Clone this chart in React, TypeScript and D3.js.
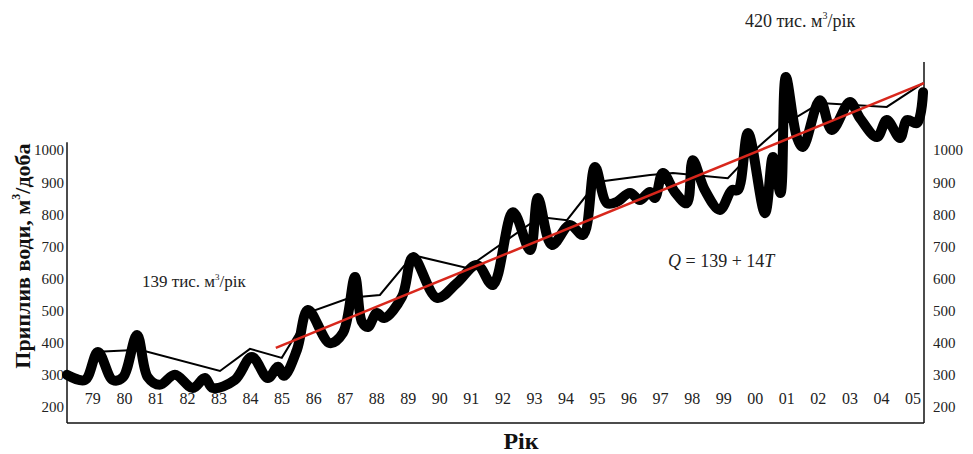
import React from 'react';
import * as d3 from 'd3';

// thick curve: seasonal inflow (year, m3/day)
const seasonal: [number, number][] = [
  [1978.18, 300], [1978.75, 284], [1979.16, 371], [1979.63, 284], [1979.95, 292],
  [1980.4, 424], [1980.74, 293], [1981.12, 269], [1981.6, 300], [1982.17, 259],
  [1982.55, 290], [1982.8, 259], [1983.5, 284], [1984.04, 356], [1984.55, 290],
  [1984.87, 325], [1985.06, 297], [1985.47, 378], [1985.82, 502], [1986.51, 399],
  [1986.93, 431], [1987.31, 605], [1987.53, 465], [1987.72, 449], [1988.0, 493],
  [1988.23, 477], [1988.8, 543], [1989.15, 667], [1989.91, 540], [1990.54, 586],
  [1991.18, 642], [1991.68, 580], [1992.32, 807], [1992.86, 689], [1993.11, 851],
  [1993.55, 705], [1994.12, 767], [1994.54, 736], [1994.92, 948], [1995.3, 835],
  [1995.61, 839], [1996.03, 867], [1996.34, 845], [1996.66, 870], [1996.82, 851],
  [1997.07, 929], [1997.45, 870], [1997.83, 835], [1998.02, 969], [1998.4, 876],
  [1998.88, 814], [1999.26, 876], [1999.45, 876], [1999.77, 1054], [2000.31, 804],
  [2000.56, 979], [2000.8, 867], [2000.97, 1228], [2001.32, 1041], [2001.51, 1010],
  [2002.05, 1156], [2002.43, 1063], [2003.0, 1150], [2003.32, 1100], [2003.86, 1041],
  [2004.17, 1094], [2004.59, 1038], [2004.81, 1094], [2005.13, 1085], [2005.32, 1181],
];

// thin line: annual means
const annual: [number, number][] = [
  [1979.0, 371], [1980.49, 378], [1983.03, 312], [1983.98, 381], [1984.99, 353],
  [1985.88, 496], [1987.15, 540], [1988.1, 549], [1989.15, 673], [1990.86, 633],
  [1993.17, 792], [1994.03, 782], [1994.98, 901], [1996.66, 923], [1997.39, 929],
  [1999.13, 913], [1999.99, 1001], [2000.88, 1078], [2002.05, 1147], [2004.17, 1135],
  [2005.32, 1209],
];

// red trend line Q = 139 + 14T
const trend: [number, number][] = [[1984.8, 384], [2005.35, 1209]];

const yearTicks = d3.range(1979, 2006);
const valueTicks = [200, 300, 400, 500, 600, 700, 800, 900, 1000];

const serif = { fontFamily: "'Liberation Serif', 'Times New Roman', Times, serif" };

export default function App() {
  const x = d3.scaleLinear().domain([1978.18, 2005.35]).range([67, 924]);
  const y = d3.scaleLinear().domain([150, 1275]).range([423, 62]);

  const smooth = d3.line<[number, number]>()
    .x(d => x(d[0])).y(d => y(d[1]))
    .curve(d3.curveCatmullRom.alpha(0.5));
  const straight = d3.line<[number, number]>()
    .x(d => x(d[0])).y(d => y(d[1]));

  const [x0, x1] = x.range();
  const yBottom = y(150);

  return (
    <svg width={973} height={454} style={{ position: 'absolute', left: 0, top: 0, background: '#fff' }}>
      {/* frame */}
      <line x1={x0} x2={x0} y1={y(1025)} y2={yBottom} stroke="#111" strokeWidth={1.5} />
      <line x1={x0} x2={x1} y1={yBottom} y2={yBottom} stroke="#111" strokeWidth={1.5} />
      <line x1={x1} x2={x1} y1={y(1275)} y2={yBottom} stroke="#111" strokeWidth={1.5} />

      <g style={serif} fill="#222">
        {/* left ticks */}
        {valueTicks.map(v => (
          <text key={'l' + v} x={x0 - 3} y={y(v)} dy="0.35em" textAnchor="end" fontSize={15}>{v}</text>
        ))}
        {/* right ticks */}
        {valueTicks.map(v => (
          <text key={'r' + v} x={x1 + 9} y={y(v)} dy="0.35em" textAnchor="start" fontSize={15}>{v}</text>
        ))}
        {/* year labels */}
        {yearTicks.map(t => (
          <text key={t} x={x(t)} y={398} dy="0.35em" textAnchor="middle" fontSize={16}>
            {String(t % 100).padStart(2, '0')}
          </text>
        ))}
      </g>

      {/* data */}
      <path d={smooth(seasonal) || ''} fill="none" stroke="#000" strokeWidth={10}
        strokeLinejoin="round" strokeLinecap="round" />
      <path d={straight(annual) || ''} fill="none" stroke="#000" strokeWidth={2} />
      <path d={straight(trend) || ''} fill="none" stroke="#d8271c" strokeWidth={2.5} />

      <g style={serif}>
        {/* annotations */}
        <text x={745} y={27} fontSize={18} fill="#222">
          420 тис. м<tspan fontSize={10} dy={-8}>3</tspan><tspan dy={8}>/рік</tspan>
        </text>
        <text x={142} y={287} fontSize={17} fill="#222">
          139 тис. м<tspan fontSize={9} dy={-7}>3</tspan><tspan dy={7}>/рік</tspan>
        </text>
        <text x={668} y={267} fontSize={18} fill="#222">
          <tspan fontStyle="italic">Q</tspan> = 139 + 14<tspan fontStyle="italic">T</tspan>
        </text>

        {/* axis titles */}
        <text transform="translate(30,256) rotate(-90)" textAnchor="middle" fontSize={22} fontWeight="bold" fill="#111">
          Приплив води, м<tspan fontSize={12} dy={-10}>3</tspan><tspan dy={10}>/доба</tspan>
        </text>
        <text x={521} y={449} textAnchor="middle" fontSize={24} fontWeight="bold" fill="#111">Рік</text>
      </g>
    </svg>
  );
}
